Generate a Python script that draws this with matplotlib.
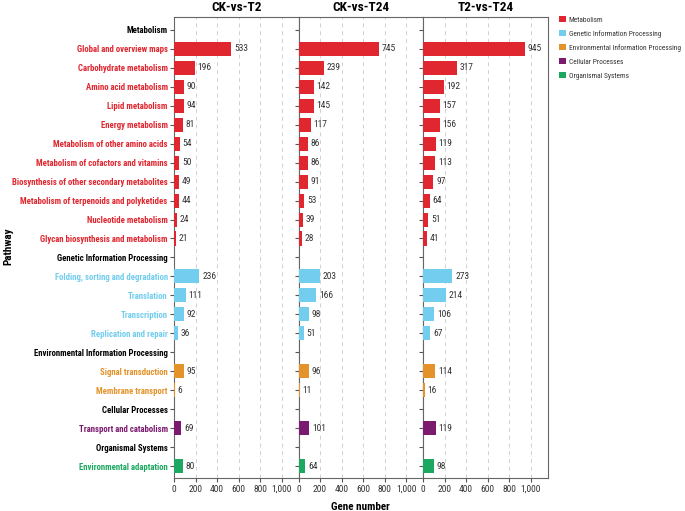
import matplotlib
matplotlib.use("Agg")
import matplotlib.pyplot as plt
from matplotlib.patches import Patch
from matplotlib.ticker import FuncFormatter
from matplotlib import font_manager

# pick a condensed sans if one is installed
fams = set(f.name for f in font_manager.fontManager.ttflist)
narrow = None
for cand in ["Arial Narrow", "Liberation Sans Narrow", "Roboto Condensed", "Archivo Narrow",
             "PT Sans Narrow", "Pragati Narrow", "Encode Sans Condensed", "Open Sans Condensed",
             "IBM Plex Sans Condensed", "Fira Sans Condensed"]:
    if cand in fams:
        narrow = cand
        break
base = narrow if narrow else "Liberation Sans"
plt.rcParams['font.family'] = [base, 'DejaVu Sans']

groups = ["Metabolism", "Genetic Information Processing", "Environmental Information Processing",
          "Cellular Processes", "Organismal Systems"]
group_colors = ["#E0262F", "#72CDEE", "#E3932A", "#7B1B6F", "#1DA862"]

pathways = [
    ["Global and overview maps", "Carbohydrate metabolism", "Amino acid metabolism", "Lipid metabolism",
     "Energy metabolism", "Metabolism of other amino acids", "Metabolism of cofactors and vitamins",
     "Biosynthesis of other secondary metabolites", "Metabolism of terpenoids and polyketides",
     "Nucleotide metabolism", "Glycan biosynthesis and metabolism"],
    ["Folding, sorting and degradation", "Translation", "Transcription", "Replication and repair"],
    ["Signal transduction", "Membrane transport"],
    ["Transport and catabolism"],
    ["Environmental adaptation"],
]

comparisons = ["CK-vs-T2", "CK-vs-T24", "T2-vs-T24"]
ck_t2 = [[533, 196, 90, 94, 81, 54, 50, 49, 44, 24, 21], [236, 111, 92, 36], [95, 6], [69], [80]]
ck_t24 = [[745, 239, 142, 145, 117, 86, 86, 91, 53, 39, 28], [203, 166, 98, 51], [96, 11], [101], [64]]
t2_t24 = [[945, 317, 192, 157, 156, 119, 113, 97, 64, 51, 41], [273, 214, 106, 67], [114, 16], [119], [98]]
all_vals = [ck_t2, ck_t24, t2_t24]

# build row list (headers + items)
labels, label_cols, row_group = [], [], []
for gi, g in enumerate(groups):
    labels.append(g); label_cols.append("black"); row_group.append((gi, None))
    for pi, p in enumerate(pathways[gi]):
        labels.append(p); label_cols.append(group_colors[gi]); row_group.append((gi, pi))
n = len(labels)

W, H = 685, 511
fig = plt.figure(figsize=(W / 100, H / 100), dpi=100)
lefts = [174, 298.5, 423]
pw = 124.5
top, bot = 17, 478

lab_size = 7.0
axes = []
for k, name in enumerate(comparisons):
    ax = fig.add_axes([lefts[k] / W, 1 - bot / H, pw / W, (bot - top) / H])
    axes.append(ax)
    vals = all_vals[k]
    for r, (gi, pi) in enumerate(row_group):
        if pi is None:
            continue
        v = vals[gi][pi]
        ax.barh(r, v, height=0.74, color=group_colors[gi], zorder=3)
        ax.text(v + 25, r, str(v), va='center', ha='left', fontsize=6.8, color='#333333')
    ax.set_ylim(n - 0.37, -0.68)
    ax.set_xlim(0, 1157)
    ax.set_xticks([0, 200, 400, 600, 800, 1000])
    ax.xaxis.set_major_formatter(FuncFormatter(lambda x, p: "{:,}".format(int(x))))
    ax.grid(axis='x', linestyle=(0, (4, 4)), color='#d0d0d0', linewidth=0.7, zorder=0)
    ax.set_yticks(range(n))
    if k == 0:
        ax.set_yticklabels(labels, fontsize=lab_size, fontweight='bold')
        for t, c in zip(ax.get_yticklabels(), label_cols):
            t.set_color(c)
    else:
        ax.set_yticklabels([])
    if k == 1:
        ax.set_xlabel("Gene number", fontsize=8, fontweight='bold', labelpad=6)
    ax.tick_params(axis='x', labelsize=6.8, length=3, color='#555555', labelcolor='#333333', pad=2)
    ax.tick_params(axis='y', length=3, color='#555555', pad=1.5)
    for s in ax.spines.values():
        s.set_color('#666666')
        s.set_linewidth(0.8)
    ax.set_title(name, fontsize=9.5, fontweight='bold', pad=4)

# shrink the pathway labels if the longest does not fit in the reference's width (~155 px)
fig.canvas.draw()
rend = fig.canvas.get_renderer()
widest = max(t.get_window_extent(rend).width for t in axes[0].get_yticklabels())
if widest > 156:
    new = lab_size * 156 / widest
    for t in axes[0].get_yticklabels():
        t.set_fontsize(new)

fig.text(8 / W, 1 - 246 / H, "Pathway", rotation=90, fontsize=8, fontweight='bold',
         ha='center', va='center')

# legend font size: longest entry should span about 112 px like the reference
leg_fs = 6.5
probe = fig.text(0, 0, groups[2], fontsize=leg_fs)
fig.canvas.draw()
pw_txt = probe.get_window_extent(rend).width
probe.remove()
if pw_txt > 112:
    leg_fs = leg_fs * 112 / pw_txt
pitch_pt = 13.7 * 72 / 100
lsp = pitch_pt / leg_fs - 1.0

handles = [Patch(facecolor=c, edgecolor='none') for c in group_colors]
leg = fig.legend(handles, groups, loc='upper left', bbox_to_anchor=(559 / W, 1 - 16 / H),
                 frameon=False, fontsize=leg_fs, handlelength=0.9, handleheight=0.9,
                 handletextpad=0.4, labelspacing=lsp, borderaxespad=0, borderpad=0)
for t in leg.get_texts():
    t.set_color('#333333')

fig.savefig("out.png", dpi=100)
